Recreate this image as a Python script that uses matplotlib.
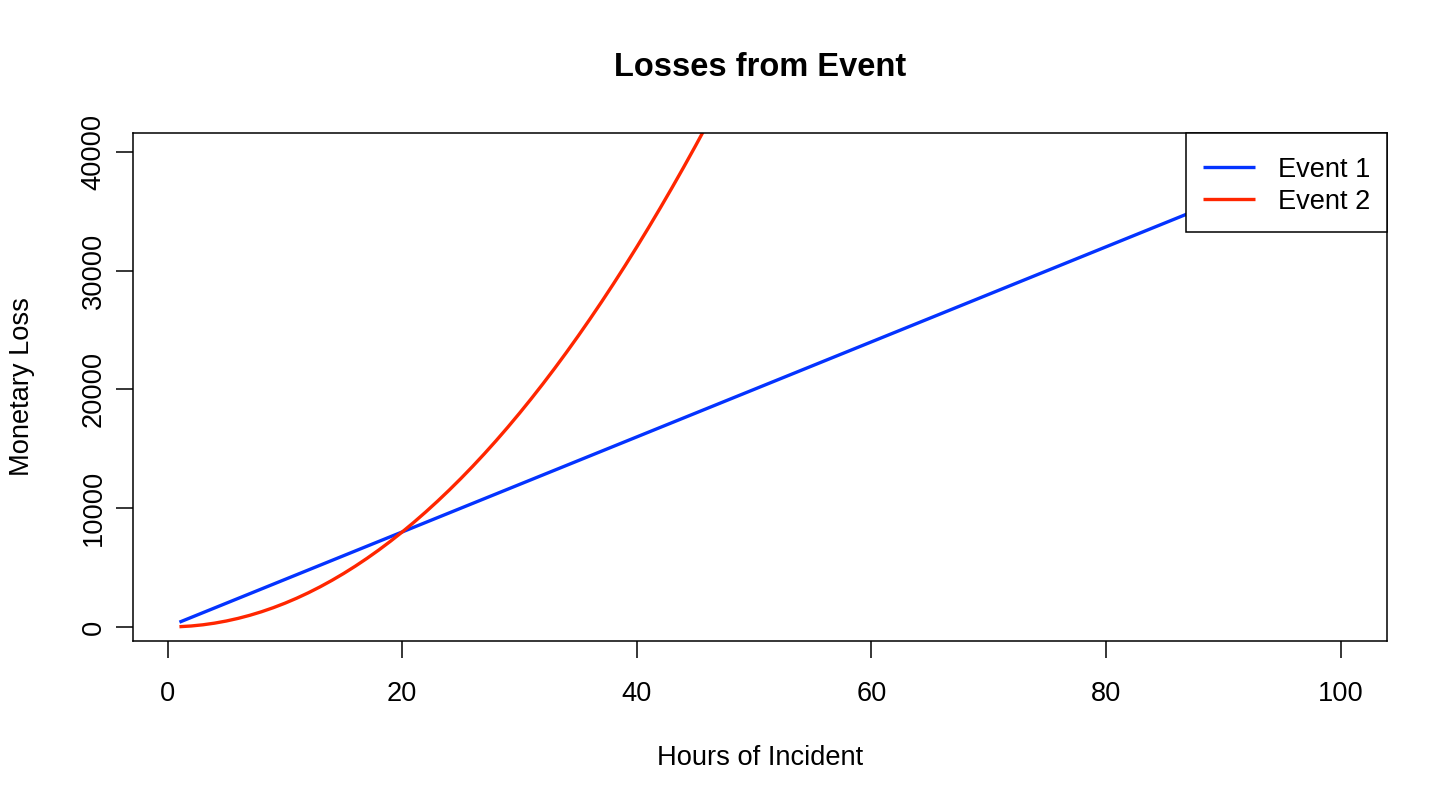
import matplotlib
matplotlib.use("Agg")
import matplotlib.pyplot as plt

plt.rcParams['font.family'] = ['Liberation Sans', 'DejaVu Sans']

title = "Losses from Event"
x_label = "Hours of Incident"
y_label = "Monetary Loss"
series_names = ["Event 1", "Event 2"]

hours_event1 = list(range(1, 101))
loss_event1 = [
    400, 800, 1200, 1600, 2000, 2400, 2800, 3200, 3600, 4000,
    4400, 4800, 5200, 5600, 6000, 6400, 6800, 7200, 7600, 8000,
    8400, 8800, 9200, 9600, 10000, 10400, 10800, 11200, 11600, 12000,
    12400, 12800, 13200, 13600, 14000, 14400, 14800, 15200, 15600, 16000,
    16400, 16800, 17200, 17600, 18000, 18400, 18800, 19200, 19600, 20000,
    20400, 20800, 21200, 21600, 22000, 22400, 22800, 23200, 23600, 24000,
    24400, 24800, 25200, 25600, 26000, 26400, 26800, 27200, 27600, 28000,
    28400, 28800, 29200, 29600, 30000, 30400, 30800, 31200, 31600, 32000,
    32400, 32800, 33200, 33600, 34000, 34400, 34800, 35200, 35600, 36000,
    36400, 36800, 37200, 37600, 38000, 38400, 38800, 39200, 39600, 40000,
]

hours_event2 = list(range(1, 51))
loss_event2 = [
    20, 80, 180, 320, 500, 720, 980, 1280, 1620, 2000,
    2420, 2880, 3380, 3920, 4500, 5120, 5780, 6480, 7220, 8000,
    8820, 9680, 10580, 11520, 12500, 13520, 14580, 15680, 16820, 18000,
    19220, 20480, 21780, 23120, 24500, 25920, 27380, 28880, 30420, 32000,
    33620, 35280, 36980, 38720, 40500, 42320, 44180, 46080, 48020, 50000,
]

x_ticks = [0, 20, 40, 60, 80, 100]
y_ticks = [0, 10000, 20000, 30000, 40000]

W, H = 1456, 809
fig = plt.figure(figsize=(W / 100, H / 100), dpi=100)
ax = fig.add_axes([133 / W, 1 - 641 / H, (1387 - 133) / W, (641 - 133) / H])

blue = "#0433FF"
red = "#FF2600"
ax.plot(hours_event1, loss_event1, color=blue, lw=2.4, label=series_names[0], solid_capstyle='butt')
ax.plot(hours_event2, loss_event2, color=red, lw=2.4, label=series_names[1], solid_capstyle='butt')

xr = (min(hours_event1), max(hours_event1))
yr = (min(loss_event1), max(loss_event1))
dx = (xr[1] - xr[0]) * 0.04
dy = (yr[1] - yr[0]) * 0.04
ax.set_xlim(xr[0] - dx, xr[1] + dx)
ax.set_ylim(yr[0] - dy, yr[1] + dy)

FS = 19.6
ax.set_xticks(x_ticks)
ax.set_yticks(y_ticks)
ax.set_xticklabels([str(v) for v in x_ticks])
ax.set_yticklabels([str(v) for v in y_ticks], rotation=90, va='center')
ax.tick_params(axis='both', direction='out', length=12, width=1.1, labelsize=FS, color='black')
ax.tick_params(axis='x', pad=17)
ax.tick_params(axis='y', pad=7)
for s in ax.spines.values():
    s.set_linewidth(1.1)
    s.set_color('black')

fig.text(0.5 * (133 + 1387) / W, 1 - 68 / H, title, ha='center', va='center',
         fontsize=23.5, fontweight='bold')
fig.text(0.5 * (133 + 1387) / W, 1 - 758 / H, x_label, ha='center', va='center', fontsize=FS)
fig.text(22 / W, 1 - 387 / H, y_label, ha='center', va='center', rotation=90, fontsize=FS)

leg = ax.legend(loc='upper right', borderaxespad=0, fancybox=False, framealpha=1,
                edgecolor='black', fontsize=FS, handlelength=1.9, handletextpad=0.85,
                borderpad=0.62, labelspacing=0.22, title=' ', title_fontsize=1)
leg.get_frame().set_linewidth(1.1)

fig.savefig("out.png", dpi=100, facecolor='white')
